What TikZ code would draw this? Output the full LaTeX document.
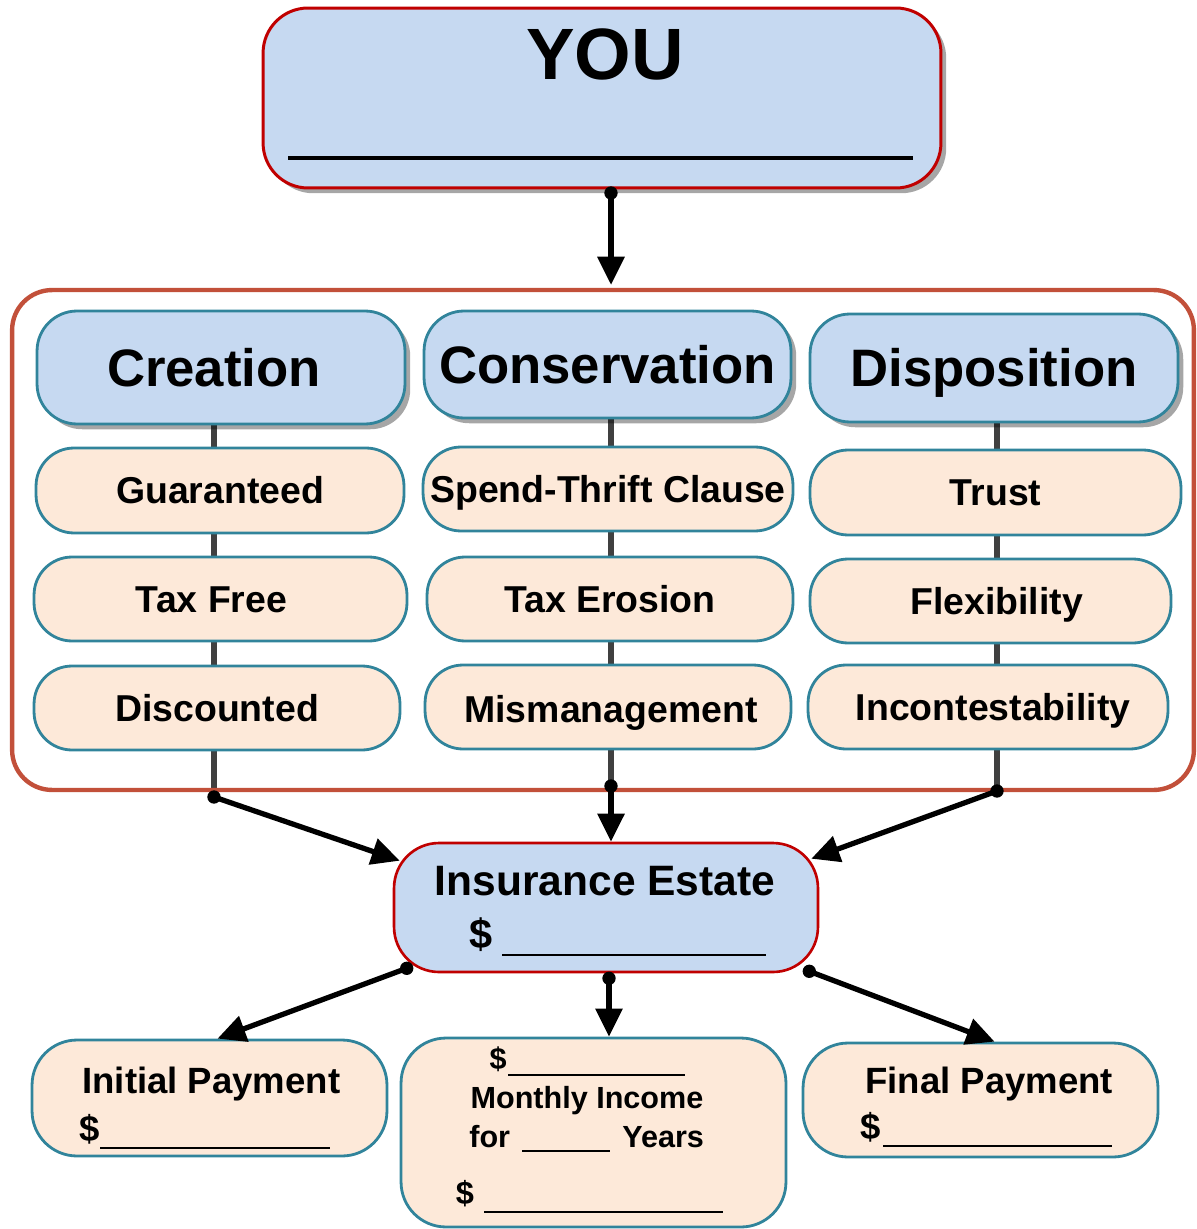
\documentclass[tikz,border=0pt]{standalone}
\usepackage{fontspec}
\setmainfont{Liberation Sans}
\usetikzlibrary{arrows.meta,shadows,calc,backgrounds}
\definecolor{boxblue}{HTML}{C6D9F1}
\definecolor{peach}{HTML}{FDE9D9}
\definecolor{tealb}{HTML}{31849B}
\definecolor{redb}{HTML}{C00000}
\definecolor{framec}{HTML}{C2503A}
\definecolor{spinec}{HTML}{404040}
\begin{document}
\begin{tikzpicture}[x=0.02cm,y=-0.02cm,
  shad/.style={drop shadow={shadow xshift=3pt,shadow yshift=-3pt,opacity=0.35,fill=black}},
  rbox/.style={draw=tealb,line width=1.6pt,inner sep=0pt},
  hdrfont/.style={font=\fontsize{30}{36}\selectfont\bfseries,text height=21.5pt,text depth=0pt},
  hdr/.style={rbox,fill=boxblue,shad,rounded corners=0.8cm,hdrfont},
  itemfont/.style={font=\fontsize{21.3}{26}\selectfont\bfseries,text height=15.25pt,text depth=0pt},
  itembox/.style={rbox,fill=peach,rounded corners=0.76cm,itemfont},
  paybox/.style={rbox,fill=peach,rounded corners=0.9cm},
  redbox/.style={draw=redb,line width=1.5pt,fill=boxblue,inner sep=0pt,rounded corners=0.9cm},
  arr/.style={line width=3pt,-{Triangle[length=16pt,width=15pt]}},
  dot/.style={fill=black},
  spine/.style={draw=spinec,line width=3.6pt},
  blank/.style={line width=1.4pt},
  txt/.style={inner sep=0pt}
]
\useasboundingbox (0,0) rectangle (1196,1229);

% outer frame
\node[draw=framec,line width=2.5pt,rounded corners=0.8cm,minimum width=23.64cm,minimum height=10cm,inner sep=0pt] (frame) at (603,540) {};

% YOU box
\node[redbox,shad,line width=1.7pt,minimum width=13.56cm,minimum height=3.6cm] (you) at (602,98) {};
\node[txt,anchor=base,font=\fontsize{41.4}{48}\selectfont\bfseries] (youtxt) at (605,80) {YOU};
\draw[line width=2.5pt] (288,158) -- (913,158);

% headers
\node[hdr,minimum width=7.36cm,minimum height=2.26cm] (h1) at (221,367.5) {};
\node[txt,hdrfont] (h1t) at ($(h1)+(-7,0)$) {Creation};
\node[hdr,minimum width=7.34cm,minimum height=2.14cm] (h2) at (607.5,364.5) {Conservation};
\node[hdr,minimum width=7.36cm,minimum height=2.16cm] (h3) at (994,368) {Disposition};

% items
\node[itembox,minimum width=7.36cm,minimum height=1.70cm] (a1) at (220,490.5) {Guaranteed};
\node[itembox,minimum width=7.40cm,minimum height=1.68cm] (b1) at (608,489) {Spend-Thrift Clause};
\node[itembox,minimum width=7.42cm,minimum height=1.70cm] (c1) at (995.5,492.5) {Trust};
\node[itembox,minimum width=7.46cm,minimum height=1.68cm] (a2) at (220.5,599) {};
\node[txt,itemfont] (a2t) at ($(a2)+(-9,0)$) {Tax Free};
\node[itembox,minimum width=7.32cm,minimum height=1.68cm] (b2) at (610,599) {Tax Erosion};
\node[itembox,minimum width=7.22cm,minimum height=1.68cm] (c2) at (990.5,601) {};
\node[txt,itemfont] (c2t) at ($(c2)+(6,0)$) {Flexibility};
\node[itembox,minimum width=7.32cm,minimum height=1.68cm] (a3) at (217,708) {Discounted};
\node[itembox,minimum width=7.32cm,minimum height=1.68cm] (b3) at (608,707) {};
\node[txt,itemfont] (b3t) at ($(b3)+(3,2)$) {Mismanagement};
\node[itembox,minimum width=7.20cm,minimum height=1.68cm] (c3) at (988,707) {};
\node[txt,itemfont] (c3t) at ($(c3)+(5,0)$) {Incontestability};

% spine ends
\coordinate (d1) at (214,797);
\coordinate (d2) at (611,786);
\coordinate (d3) at (997,791);
\coordinate (ys) at (611,193);

\begin{scope}[on background layer]
  \draw[spine] (d1 |- h1.south) -- (d1);
  \draw[spine] (d2 |- h2.south) -- (d2);
  \draw[spine] (d3 |- h3.south) -- (d3);
\end{scope}

% insurance estate
\node[redbox,minimum width=8.48cm,minimum height=2.58cm] (est) at (606,907.5) {};
\node[txt,anchor=base,font=\fontsize{24.2}{29}\selectfont\bfseries] (esttxt) at (605,895) {Insurance Estate};
\node[txt,anchor=base,font=\fontsize{23.6}{28}\selectfont\bfseries] (estd) at (481,948) {\$};
\draw[blank] (502,955) -- (766,955);

% payment boxes
\node[paybox,minimum width=7.10cm,minimum height=2.32cm] (p1) at (209.5,1098) {};
\node[paybox,minimum width=7.70cm,minimum height=3.78cm] (p2) at (593.5,1132.5) {};
\node[paybox,minimum width=7.10cm,minimum height=2.28cm] (p3) at (980.5,1100) {};

\node[txt,anchor=base west,font=\fontsize{20.8}{25}\selectfont\bfseries] (p1t) at (82,1093) {Initial Payment};
\node[txt,anchor=base,font=\fontsize{20.8}{25}\selectfont\bfseries] (p1d) at (90,1141) {\$};
\draw[blank] (100,1148) -- (330,1148);

\node[txt,anchor=base west,font=\fontsize{20.8}{25}\selectfont\bfseries] (p3t) at (865,1093) {Final Payment};
\node[txt,anchor=base,font=\fontsize{20.8}{25}\selectfont\bfseries] (p3d) at (871,1139) {\$};
\draw[blank] (883,1146) -- (1112,1146);

\node[txt,anchor=base,font=\fontsize{17.4}{21}\selectfont\bfseries] (p2d1) at (498,1069) {\$};
\draw[blank] (508,1075) -- (685,1075);
\node[txt,anchor=base,font=\fontsize{17.4}{21}\selectfont\bfseries] (p2t) at (587,1108) {Monthly Income};
\node[txt,anchor=base west,font=\fontsize{17.4}{21}\selectfont\bfseries] (p2f) at (469,1147) {for};
\draw[blank] (522,1151) -- (610,1151);
\node[txt,anchor=base west,font=\fontsize{17.4}{21}\selectfont\bfseries] (p2y) at (622,1147) {Years};
\node[txt,anchor=base,font=\fontsize{18.5}{22}\selectfont\bfseries] (p2d2) at (465,1204) {\$};
\draw[blank] (484,1212) -- (723,1212);

% arrow start points
\coordinate (e1) at ($(est.south west)+(14,-5)$);
\coordinate (e2) at ($(est.south)+(3,5)$);
\coordinate (e3) at ($(est.south east)+(-10,-2)$);

% arrows
\draw[arr] (ys) -- ($(ys |- frame.north)+(0,-3)$);
\draw[arr] (d1) -- ($(est.north west)+(7,19)$);
\draw[arr] (d2) -- (d2 |- est.north);
\draw[arr] (d3) -- ($(est.north east)+(-8,17)$);
\draw[arr] (e1) -- ($(p1.north)+(8,0)$);
\draw[arr] (e2) -- (e2 |- p2.north);
\draw[arr] (e3) -- ($(p3.north)+(14,0)$);

% dots
\foreach \c in {ys,d1,d2,d3,e1,e2,e3} \fill[dot] (\c) circle (3.8pt);
\end{tikzpicture}
\end{document}
